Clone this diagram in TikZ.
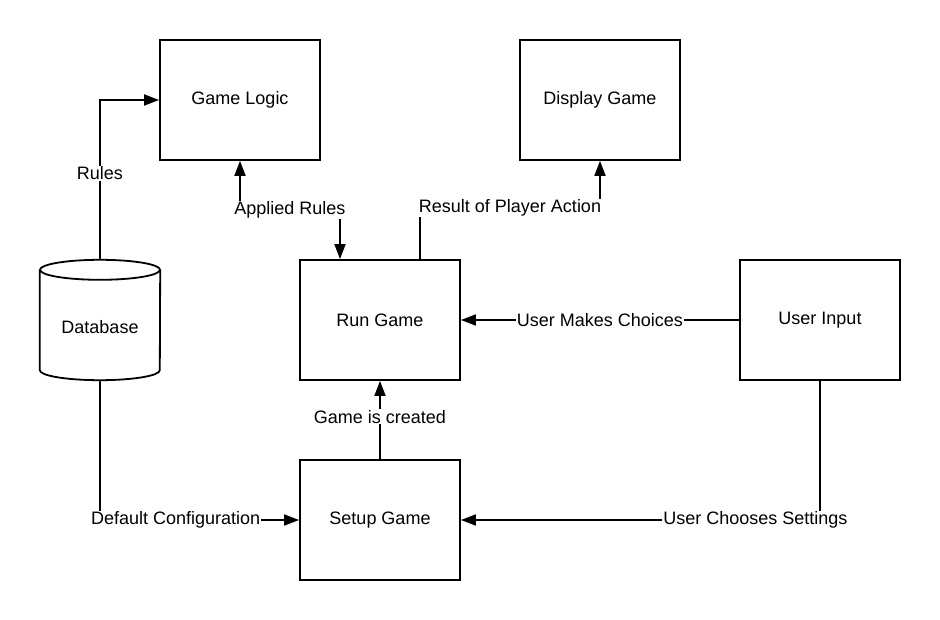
\documentclass[tikz,border=0pt]{standalone}
\usepackage{fontspec}
\setmainfont{Liberation Sans}
\usetikzlibrary{arrows.meta, positioning}

\begin{document}
\begin{tikzpicture}[
  x=1pt, y=-1pt,
  font=\fontsize{18}{21.6}\selectfont,
  procbox/.style={draw=black, line width=1.8pt, minimum width=160pt,
                  minimum height=120pt, inner sep=0pt, align=center},
  storenode/.style={minimum width=120pt, minimum height=120pt,
                    inner sep=0pt, text height=30pt, text depth=3pt},
  edgelabel/.style={fill=white, inner sep=1pt},
  flowarrow/.style={-{Triangle[length=15pt, width=11pt]}, line width=1.8pt},
  twowayarrow/.style={{Triangle[length=15pt, width=11pt]}-{Triangle[length=15pt, width=11pt]},
                      line width=1.8pt},
]
\useasboundingbox (0,0) rectangle (940,620);

% =================================================================
%  PROCESS BOXES
% =================================================================
\node[procbox] (logic)   at (240,100) {Game Logic};
\node[procbox] (display) at (600,100) {Display Game};
\node[procbox] (run)     at (380,320) {Run Game};
\node[procbox] (user)    at (820,320) {User Input};
\node[procbox] (setup)   at (380,520) {Setup Game};

% =================================================================
%  DATA STORE
% =================================================================
\node[storenode] (db) at (100,320) {Database};
\draw[line width=1.8pt] ([yshift=-10pt]db.north west)
  -- ([yshift=10pt]db.south west)
  arc[start angle=180, end angle=360, x radius=60pt, y radius=10pt]
  -- ([yshift=-10pt]db.north east);
\draw[line width=1.8pt] ([yshift=-10pt]db.north) ellipse [x radius=60pt, y radius=10pt];

% =================================================================
%  ARROWS
% =================================================================
\draw[flowarrow] (db.north) |- node[edgelabel, pos=0.27] {Rules} (logic.west);

\draw[twowayarrow] (logic.south) -- ++(0,49)
  -| node[edgelabel, pos=0.25] {Applied Rules} ([xshift=-40pt]run.north);

\draw[flowarrow] ([xshift=40pt]run.north) -- ++(0,-51)
  -| node[edgelabel, pos=0.25] {Result of Player Action} (display.south);

\draw[flowarrow] (user.west) -- node[edgelabel] {User Makes Choices} (run.east);

\draw[flowarrow] (setup.north) -- node[edgelabel, pos=0.54] {Game is created} (run.south);

\draw[flowarrow] (db.south) |- node[edgelabel, pos=0.69] {Default Configuration} (setup.west);

\draw[flowarrow] (user.south) |- node[edgelabel, pos=0.59] {User Chooses Settings} (setup.east);

\end{tikzpicture}
\end{document}
